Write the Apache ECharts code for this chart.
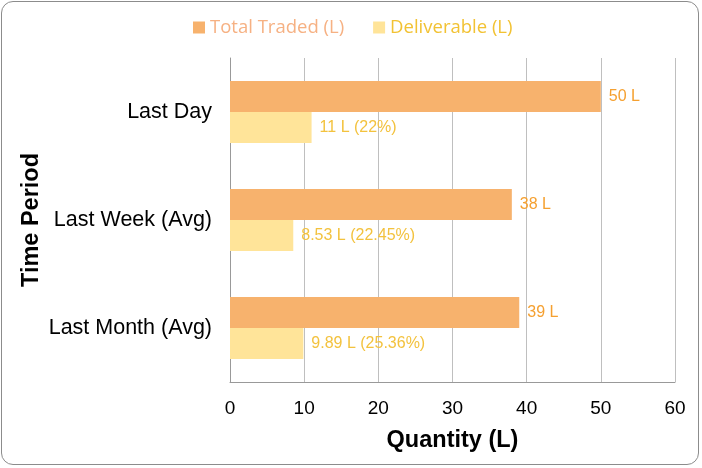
<!DOCTYPE html>
<html>
<head>
<meta charset="utf-8">
<script src="https://cdn.jsdelivr.net/npm/echarts@6/dist/echarts.min.js"></script>
<style>
html,body{margin:0;padding:0;background:#fff;}
#main{position:absolute;left:1px;top:1px;width:698px;height:464px;border:1px solid #8c8c8c;border-radius:12px;box-sizing:border-box;}
</style>
</head>
<body>
<div id="main"></div>
<script>
// categories and values
var periods = ['Last Day', 'Last Week (Avg)', 'Last Month (Avg)'];
var totalTraded = [50, 38, 39];
var deliverable = [11, 8.53, 9.89];
var deliverablePct = ['22%', '22.45%', '25.36%'];
var xTicks = [0, 60, 10];

var myChart = echarts.init(document.getElementById('main'));
var option = {
	animation: false,
	legend: {
		top: 11,
		left: 186,
		itemWidth: 12,
		itemHeight: 12,
		itemGap: 29,
		icon: 'rect',
		textStyle: {fontFamily: 'Open Sans', fontSize: 18.5},
		data: [
			{name: 'Total Traded (L)', textStyle: {color: '#F6B183'}},
			{name: 'Deliverable (L)', textStyle: {color: '#F2C233'}}
		]
	},
	grid: {left: 228, right: 23, top: 56, bottom: 82},
	xAxis: {
		type: 'value',
		min: xTicks[0], max: xTicks[1], interval: xTicks[2],
		name: 'Quantity (L)',
		nameLocation: 'middle',
		nameGap: 47,
		nameMoveOverlap: false,
		nameTextStyle: {fontFamily: 'Liberation Sans', fontSize: 23.5, fontWeight: 'bold', color: '#000'},
		axisLine: {show: true, lineStyle: {color: '#999'}},
		axisTick: {show: false},
		axisLabel: {fontFamily: 'Liberation Sans', fontSize: 19, color: '#000', margin: 17},
		splitLine: {lineStyle: {color: '#bfbfbf'}}
	},
	yAxis: {
		type: 'category',
		inverse: true,
		data: periods,
		name: 'Time Period',
		nameLocation: 'middle',
		nameRotate: 90,
		nameGap: 186,
		nameMoveOverlap: false,
		nameTextStyle: {fontFamily: 'Liberation Sans', fontSize: 23.5, fontWeight: 'bold', color: '#000'},
		axisLine: {show: true, lineStyle: {color: '#999'}},
		axisTick: {show: false},
		axisLabel: {fontFamily: 'Liberation Sans', fontSize: 21.5, color: '#000', margin: 18}
	},
	series: [{
		name: 'Total Traded (L)',
		type: 'bar',
		data: totalTraded,
		barWidth: 31,
		barGap: '0%',
		itemStyle: {color: '#F7B26D'},
		label: {
			show: true, position: 'right', distance: 8,
			fontFamily: 'Liberation Sans', fontSize: 16, color: '#F5A030',
			formatter: function(p){ return p.value + ' L'; }
		}
	}, {
		name: 'Deliverable (L)',
		type: 'bar',
		data: deliverable,
		barWidth: 31,
		itemStyle: {color: '#FFE499'},
		label: {
			show: true, position: 'right', distance: 8,
			fontFamily: 'Liberation Sans', fontSize: 16, color: '#F3C23E',
			formatter: function(p){ return p.value + ' L (' + deliverablePct[p.dataIndex] + ')'; }
		}
	}]
};
myChart.setOption(option);
</script>
</body>
</html>
